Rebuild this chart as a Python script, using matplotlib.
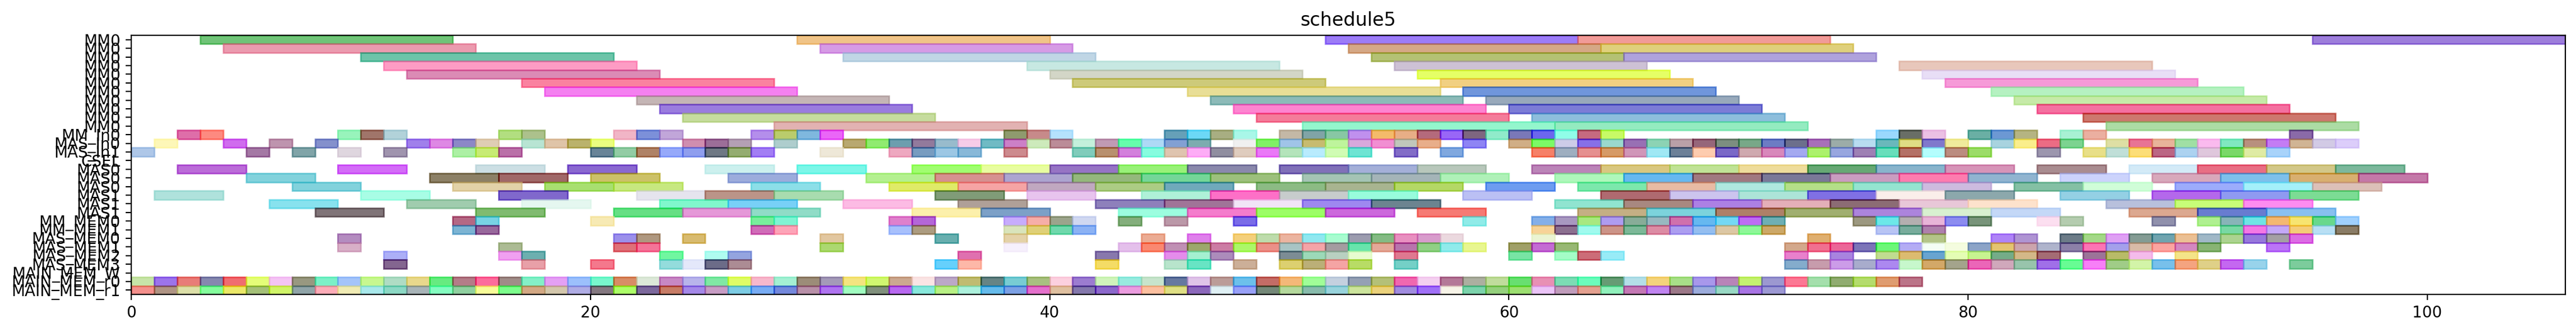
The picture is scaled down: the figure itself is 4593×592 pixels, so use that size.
import matplotlib
matplotlib.use("Agg")
import matplotlib.pyplot as plt
from matplotlib.colors import to_rgb
import numpy as np

title = "schedule5"
row_labels = ["MM0"] * 11 + ["MM_In0", "MAS_In0", "MAS_In1", "CSEL",
              "MAS0", "MAS0", "MAS0", "MAS1", "MAS1", "MAS1",
              "MM_MEM0", "MM_MEM1", "MAS_MEM0", "MAS_MEM1", "MAS_MEM2", "MAS_MEM3",
              "MAIN_MEM_W", "MAIN_MEM_r0", "MAIN_MEM_r1"]
x_ticks = [0, 20, 40, 60, 80, 100]
x_max = 106
durations = [11] * 11 + [1, 1, 1, 1] + [3] * 6 + [1] * 9

s0 = [3, 29, 52, 63, 95]
c0 = ["#70C478", "#F0C488", "#9C7CF8", "#F19B98", "#9D7EDB"]
s1 = [4, 30, 53, 64]
c1 = ["#EC9BB0", "#D69BE6", "#D5A886", "#E0D07C"]
s2 = [10, 31, 54, 65]
c2 = ["#6DC5AA", "#C0D6E6", "#B4C274", "#AFA2DC"]
s3 = [11, 39, 55, 77]
c3 = ["#FE9CC5", "#C8E8E2", "#CDC2D5", "#E8C8BC"]
s4 = [12, 40, 56, 78]
c4 = ["#DB8BB6", "#D4D6C8", "#E6FF66", "#E8DEF6"]
s5 = [17, 41, 57, 79]
c5 = ["#FA82A0", "#CECB7A", "#F2D182", "#F69AD8"]
s6 = [18, 46, 58, 81]
c6 = ["#F580F0", "#E9DE96", "#7096DC", "#B6F2C2"]
s7 = [22, 47, 59, 82]
c7 = ["#C4B6B6", "#8CBAB8", "#98AABC", "#C6EAA8"]
s8 = [23, 48, 60, 83]
c8 = ["#9A7CDE", "#FE84D0", "#7C7CD6", "#F470A0"]
s9 = [24, 49, 61, 85]
c9 = ["#C6DC9E", "#F47C9A", "#8DBEDC", "#CD786E"]
s10 = [28, 51, 62, 86]
c10 = ["#E2B2B2", "#94F6CE", "#94ECC0", "#ADDDA4"]

s11 = [2, 3, 9, 10, 11, 16, 17, 21, 22, 23, 27, 28, 29, 30,
       38, 39, 40, 45, 46, 47, 48, 50, 51, 52, 53, 54, 55, 56, 57, 58, 59, 60, 61, 62, 63, 64,
       76, 77, 78, 80, 81, 82, 84, 85, 94]
c11 = ["#DE6EAA", "#FE8A80", "#98F4BC", "#A0756A", "#B2D2DA", "#B2DE80", "#ACC28C", "#F2B6C6", "#7C90DA", "#C2A6DA", "#B48EEC", "#BACC6C", "#7FB8DE", "#EA66F8",
       "#8F9A6E", "#C78A8A", "#B6E2FE", "#66A0B8", "#6CD8F6", "#A8AE82", "#AAF8E8", "#C4B8A6", "#80A4A6", "#88C8A4", "#C090EE", "#F4BA6A", "#E9AE86", "#B46A7C", "#9966F8", "#7E6580", "#90ECCA", "#7A78B8", "#6C66EE", "#90FEE8", "#C66A80", "#C8FA66",
       "#9AD8FE", "#696E62", "#ECC0E4", "#6AB0A4", "#6C98D4", "#B6B482", "#A8F2D4", "#ECB0A0", "#8A6AA8"]

s12 = [1, 4, 6, 8, 12, 13, 14, 15, 17, 18, 19, 20, 24, 25, 26, 28, 31, 32, 33,
       34, 35, 36, 37, 38, 39, 40, 41, 42, 43, 44, 45, 46, 48, 49, 50, 51, 52,
       53, 54, 55, 56, 58, 60, 61, 62, 63, 64, 65, 66, 67, 68, 69, 70, 71, 72,
       73, 74, 75, 76, 77, 78, 79, 81, 82, 83, 84, 86, 87, 88, 89, 90, 91, 92, 93, 94, 95, 96]
c12 = ["#FEF8B8", "#D06CEE", "#BE94AE", "#8490CC", "#A080EC", "#DE88E4", "#8C88C8", "#E0CDB4", "#B8E4D4", "#DFC4A8", "#BAB26C", "#EAFE80", "#D08EB0", "#9C6E98", "#B4A0B4", "#AECECE", "#B8A870", "#90EC70", "#6C9EAE",
       "#927A9C", "#98BCCC", "#F8CCE8", "#70BAC4", "#CC80C8", "#CDEABC", "#BC8C98", "#C4F0DC", "#C09AB4", "#66FEAC", "#AEDAF6", "#82A0D4", "#7CACB0", "#F0F0F0", "#80F060", "#A0C4E8", "#C8BC70", "#BEF49C",
       "#D8A8DC", "#F28ED2", "#C0C8BC", "#E8AE8A", "#8E84F4", "#D0AE86", "#7CFA66", "#CECCE8", "#8670E8", "#9AD8CE", "#9870B4", "#8CD4B4", "#BAA0A8", "#96667A", "#7C8E80", "#78A888", "#6C7CC4", "#6C6F8C",
       "#A870B8", "#9CADA8", "#B8DCF0", "#6AB8BC", "#E0DC84", "#8078CC", "#F0EC9C", "#A8D4E0", "#FBEE8C", "#EC6C84", "#7CD490", "#DEE0A4", "#E87494", "#E8B49A", "#A0E0A4", "#FABAEE", "#80E8C0", "#B8907E", "#C47CF4", "#D0B494", "#D2CAE6", "#DCCEFA"]

s13 = [0, 5, 7, 9, 11, 14, 15, 16, 20, 21, 22, 23, 24, 25, 26, 27, 30, 33,
       34, 35, 36, 38, 41, 42, 43, 44, 45, 46, 47, 48, 49, 50, 51, 52,
       53, 55, 57, 61, 62, 63, 64, 65, 66, 67, 68, 69, 70, 71, 72,
       73, 74, 75, 76, 77, 78, 79, 80, 83, 85, 86, 87, 88, 89, 90, 91, 92, 93]
c13 = ["#AEC8E8", "#A478A4", "#80A4A8", "#E0D6E0", "#A094AE", "#ACF0A4", "#C8EC74", "#BA70A8", "#688498", "#92CCA4", "#B08264", "#96AAFA", "#8F9EEE", "#6E7884", "#94AC70", "#A27EF4", "#EEE8D8", "#EEA8C0",
       "#789CC0", "#9CC8E4", "#88B8D8", "#CE8A8E", "#80CCBC", "#B8906E", "#D480DC", "#86FCE0", "#E0C4B0", "#FEACF6", "#908EA0", "#E0CCBE", "#EA78F8", "#B4E4BC", "#B8ECFE", "#D0FCB4",
       "#6EE4D4", "#826CC8", "#80A8E0", "#F68068", "#9EAEC0", "#E69090", "#D69A66", "#D096B8", "#A0E8F4", "#6C8098", "#FECCB0", "#7A68C8", "#CFAAB0", "#D888BC", "#A4AAF0",
       "#ACF26C", "#98A6E0", "#9E80B4", "#68DEBC", "#B47060", "#B4FEFE", "#BC8C80", "#9CDC68", "#9C96AE", "#E8E088", "#C0E0D8", "#FCDE78", "#BC6684", "#ACD2F0", "#E0C8DC", "#7AD868", "#E0ECA4", "#A8D4FA"]

s14 = []
c14 = []

s15 = [2, 9, 15, 19, 25, 29, 34, 37, 40, 43, 46, 50, 53, 56, 61, 64, 67, 70, 73, 76, 79, 83, 87, 90, 93, 96]
c15 = ["#BC6CD8", "#D46CF8", "#CCE0E4", "#8A68D0", "#CCF0EE", "#7CF6E8", "#A0FE70", "#E8FEA0", "#9674C4", "#98F278", "#8A88AC", "#8070B8", "#A4B0D8", "#B8C8BC", "#BC84B8", "#DAC880", "#C0E296", "#EEDC9C", "#66A874", "#88B4CC", "#D694B8", "#AA8C90", "#D4EAF8", "#E86E84", "#D2C888", "#7CB89C"]
s16 = [5, 13, 16, 20, 26, 32, 35, 38, 41, 44, 47, 51, 54, 57, 62, 65, 68, 71, 74, 77, 80, 84, 88, 91, 94, 97]
c16 = ["#82D2DC", "#8C8064", "#A06868", "#CCC268", "#9CACDC", "#B4F090", "#D69090", "#ACA4D0", "#94B87C", "#74D698", "#9CC07C", "#A4C4B4", "#A4B4B8", "#B0F2B8", "#AEF8BC", "#64B8F0", "#A07880", "#7A7898", "#CB9CC0", "#FE7CB0", "#90B4D0", "#CCD4FC", "#D8A8BC", "#7EC0EC", "#D8B070", "#C478A8"]
s17 = [7, 14, 18, 21, 27, 33, 36, 39, 42, 45, 49, 52, 55, 59, 63, 66, 69, 72, 75, 78, 82, 85, 89, 92, 95]
c17 = ["#82D2DC", "#E2D2A8", "#A8E070", "#C8E880", "#8CE0E8", "#E0EC68", "#F6A4A4", "#C0A8C0", "#ACCC84", "#70AABC", "#8CBC84", "#A8B490", "#B4D864", "#6E9CF0", "#7CE8AC", "#E8BCA4", "#B0E8E0", "#B4E088", "#94E4D0", "#CEBCE0", "#84C0A4", "#D0FED8", "#9CACFC", "#A4F0FA", "#DCC0B8"]
s18 = [1, 10, 16, 22, 25, 28, 35, 39, 44, 47, 50, 53, 58, 64, 67, 70, 73, 76, 79, 84, 88, 91, 94]
c18 = ["#B0E2DC", "#A8FEE6", "#8068CC", "#E6E4EE", "#BC9488", "#A8DCB0", "#809C78", "#E8C4EE", "#B0F2D8", "#FE70C8", "#C8CCCC", "#98FCDC", "#BCC0F4", "#B06A70", "#CCC4EE", "#ACE4D8", "#8070E4", "#FAEEEA", "#8CA8AC", "#94D0E4", "#B468EC", "#8F9AF2", "#7CDC94"]
s19 = [6, 12, 17, 23, 26, 31, 36, 42, 45, 48, 51, 54, 62, 65, 68, 71, 74, 77, 80, 86, 89, 92]
c19 = ["#88E2EE", "#A0CCAE", "#E6F8F0", "#80F8CC", "#78D0F8", "#FCBCE4", "#B0A098", "#8E80BC", "#A07498", "#F2E4F6", "#9E88F0", "#6C8490", "#90E4D0", "#A88880", "#AC80E4", "#E4B0B8", "#8C6C74", "#E8C8D8", "#FEE2CC", "#B8C0DC", "#C8FE78", "#FE8CF0"]
s20 = [8, 15, 21, 24, 27, 34, 37, 43, 46, 49, 52, 56, 63, 66, 69, 72, 75, 78, 81, 87, 90, 93]
c20 = ["#807478", "#80BC70", "#66E084", "#E698D8", "#90DCC8", "#FCF0AC", "#7CA0C8", "#9CFEE0", "#F47CCC", "#9CFE5C", "#CC68DC", "#F67A74", "#C4B084", "#7CD4DC", "#AE8068", "#A0B070", "#AC84DC", "#D8F0D0", "#C4D8F8", "#DCA890", "#687CD0", "#88C0F0"]

s21 = [14, 15, 20, 27, 28, 33, 34, 38, 39, 40, 41, 43, 45, 48, 58, 61, 62, 63, 64, 65, 66, 67, 68, 69, 70, 71,
       75, 76, 77, 78, 79, 80, 83, 84, 88, 90, 91, 92, 93, 94, 95, 96]
c21 = ["#B46884", "#78D4E4", "#F8EAB4", "#78EE9C", "#80F4D4", "#E080CC", "#B466D8", "#C8ACFC", "#F6AEA8", "#9CA48C", "#D0D8F2", "#84AE7C", "#BC98A8", "#7A6CE8", "#90ECE8", "#84B0E8", "#A898C0", "#A8E880", "#AE9CF0", "#88AC98", "#98B8C0", "#D070AC", "#60B8F0", "#74D8F4", "#BE6CF4", "#6EB0B4",
       "#9C9880", "#6CE8E8", "#B4B0B0", "#E8B4D8", "#8C8CF0", "#78947A", "#FCE0F0", "#B4CCB0", "#9090AC", "#B0F090", "#88B4B8", "#70E4E4", "#F4B870", "#F8E470", "#68D88C", "#A0D0FE"]
s22 = [14, 15, 27, 28, 33, 34, 38, 39, 40, 41, 61, 62, 63, 64, 65, 66, 67, 68, 69, 70, 71, 76, 77, 78, 91, 92, 93, 94, 95, 96]
c22 = ["#7CB4D4", "#98689C", "#D06CB8", "#FEA4B8", "#A8C0FC", "#AC9C80", "#DAE4BC", "#E0D078", "#70D8AC", "#8CB2F4", "#F8D498", "#8C7090", "#A0FAEE", "#CC9488", "#7CB898", "#DC8CA4", "#AC9EF0", "#94BEF0", "#DCC8A4", "#8EF898", "#CCA868", "#B8C4F4", "#78AC9C", "#AE80AC", "#78D8A4", "#F478E4", "#C4A8F8", "#F4CC78", "#B8E0F4", "#8A7C64"]
s23 = [9, 21, 22, 24, 30, 35, 38, 44, 46, 48, 49, 50, 51, 52, 53, 54, 55, 56, 57, 61, 73, 78, 81, 82, 84, 85, 86, 87, 88, 89, 90, 91, 92, 93, 94]
c23 = ["#B48CC0", "#9C90EC", "#B09880", "#D8BC70", "#E2C8A0", "#68B0B0", "#E4D2A8", "#ECAC94", "#E080EC", "#F4D07C", "#BEDCAC", "#ECB4A0", "#90E8F0", "#A8FCD0", "#9C9CB0", "#84BC84", "#E890C0", "#D89CCC", "#ECDAE0", "#ECF4D4", "#E0B070", "#B4C488", "#B084F8", "#B094D4", "#6C7C88", "#A4D888", "#E0A0F4", "#849C94", "#70A4B0", "#ECC094", "#A0B8C8", "#ACD490", "#9878DC", "#A4A0A4", "#DC6CE4"]
s24 = [9, 16, 21, 22, 30, 38, 43, 44, 45, 46, 47, 48, 49, 50, 51, 52, 53, 54, 55, 56, 57, 58, 60, 61, 62, 72,
       73, 74, 75, 76, 77, 78, 79, 80, 81, 82, 83, 84, 85, 86, 87, 88, 89, 90, 93]
c24 = ["#D8B0C8", "#ACBC94", "#E07078", "#F47498", "#ACD870", "#F6F0FC", "#E4C0EC", "#FA8870", "#C090B4", "#9CA86C", "#CC7CA4", "#ACF868", "#EC9088", "#A8C4C4", "#F4A4A8", "#A49CA0", "#68E4AC", "#E4A898", "#B874AC", "#90D084", "#90ECEC", "#E8F690", "#A0A068", "#C46CD4", "#98B874", "#D4A88C",
       "#F07090", "#EC6498", "#7C74B8", "#6CF878", "#B4ACF4", "#F4FEF4", "#F4FCE0", "#8CA4C8", "#E4C470", "#CCA4AC", "#B0B4CC", "#8C80A8", "#FC74B4", "#A4A0EC", "#D8BCA8", "#FCA4A0", "#D488C0", "#88B474", "#BC74F8"]
s25 = [11, 16, 17, 23, 25, 26, 36, 42, 45, 46, 47, 50, 51, 52, 53, 55, 60, 62, 63, 64, 72,
       74, 76, 77, 78, 79, 80, 81, 82, 83, 85, 86, 87, 89]
c25 = ["#ACB0F8", "#F0A0F0", "#6CB0B0", "#70F8A0", "#B0FCF0", "#94A4E0", "#E070B0", "#8878AC", "#E48CEC", "#A4F0D0", "#AC8CBC", "#7C8C94", "#9CDAB8", "#B8D0C0", "#E8FCD0", "#E07890", "#78E4A4", "#A4FCC8", "#CC6C78", "#98ECF8", "#E880CC",
       "#A884E0", "#C0DC90", "#DCBC70", "#68A4D0", "#E4FEB4", "#C8F490", "#74AC88", "#D4B888", "#A46C74", "#9C7498", "#B8BC68", "#F4BCEC", "#F4E488"]
s26 = [11, 17, 20, 23, 24, 25, 26, 35, 36, 42, 45, 46, 48, 50, 51, 52, 53, 55, 72,
       73, 74, 75, 76, 77, 78, 79, 80, 81, 82, 83, 84, 85, 86, 87, 88, 89, 90, 91, 92, 94]
c26 = ["#846090", "#E8A0A8", "#F4788C", "#94DCDC", "#E4E8FA", "#6C6C88", "#AC8C94", "#64D0FC", "#FEB8A8", "#F4DC64", "#B8E4CC", "#68E4C4", "#CCB098", "#DCD070", "#BCB078", "#F4A4A4", "#B8DC60", "#74D0C8", "#84ACCC",
       "#C89CAC", "#CC9CE8", "#A8ACCC", "#AC88F0", "#C8F8CC", "#D4A868", "#A4A48C", "#EC64B8", "#D0A8BC", "#98C4AC", "#A070E8", "#68FC94", "#F880F8", "#A0CC88", "#D4F4A8", "#78C0EC", "#F4A480", "#E0D088", "#C468F0", "#98D4EC", "#7CCC9C"]
s27 = []
c27 = []
s28 = list(range(78))
c28 = ["#C8E4A8", "#9C74EC", "#E87C78", "#8688B0", "#F06C70", "#E4FE78", "#F4C4F4", "#989880", "#7CF0C8", "#A4C4FA", "#C8F890", "#B0DCC4", "#E8D88C", "#66EC80",
       "#B47C88", "#FC6C9C", "#A08C88", "#84F0C8", "#E4A0F4", "#9CC0FC", "#78F8CC", "#D88C64", "#DCE8D8", "#C888C4", "#B8B4EC", "#80E8A4", "#E0FC64", "#F8B8CC", "#A4F0D4", "#9C8C78", "#A49AB8", "#F4E480", "#D0F870", "#CCA890",
       "#FAE4E4", "#BCA8C8", "#C0BC70", "#648484", "#78CCD4", "#A8C080", "#FCD0E0", "#9C7CD0", "#D0F4BC", "#98ECE0", "#C8E4CC", "#6478A0", "#E0C4E8", "#BC9C98", "#6CC0EC", "#C46C60", "#F4B878", "#A0FE98", "#C4D0E0",
       "#94A0B4", "#B4C078", "#F068B0", "#F4D0F0", "#B47898", "#ACB0A0", "#C0DC9C", "#68E070", "#E890B4", "#7CDCB4", "#6CFCBC", "#649C74", "#B4E0E8", "#F4D47C", "#A8E088", "#A898EC", "#B884B8", "#C4F070", "#9C98D0", "#FC7894",
       "#A4E0AC", "#90AC70", "#B4DC6C", "#E09C70", "#BC7488"]
s29 = list(range(72))
c29 = ["#F4908C", "#B09484", "#DCE0A8", "#84FE9C", "#ECE868", "#A4C078", "#D0F468", "#90A4A8", "#FCACB8", "#F0ECB4", "#A8E8EC", "#8CD8C4", "#A8B4B8", "#84FCC0",
       "#90D0A0", "#F8FC98", "#7CFE8C", "#D4A884", "#D4C8AC", "#B0ACE4", "#847880", "#ACFE68", "#7C689C", "#C87C64", "#A488E8", "#C89CC4", "#7CCCE4", "#78ACF4", "#7488DC", "#B890A8", "#B074F0", "#A0FCC0", "#80907C", "#B868F0",
       "#88E8DC", "#B8F084", "#ACF0DC", "#64BCEC", "#7CA0E4", "#E470CC", "#E0C0A0", "#8478AC", "#8C68CC", "#EC9CE0", "#FCC0A0", "#E0E084", "#8C68BC", "#E0F0F4", "#98A0F8", "#748878", "#B4D89C", "#88BCAC", "#98D4DC",
       "#CCE49C", "#ECD27C", "#A08CE0", "#A070F8", "#F8F4E8", "#7CD4AC", "#94D07C", "#9CE070", "#ECC4F8", "#C09CBC", "#E4A090", "#90F0BC", "#C478B4", "#C084F0", "#9C7888", "#9CACDC", "#98D8C4", "#A874E4", "#9C98D4"]

row_starts = [s0, s1, s2, s3, s4, s5, s6, s7, s8, s9, s10, s11, s12, s13, s14, s15, s16, s17, s18, s19,
              s20, s21, s22, s23, s24, s25, s26, s27, s28, s29]
row_colors = [c0, c1, c2, c3, c4, c5, c6, c7, c8, c9, c10, c11, c12, c13, c14, c15, c16, c17, c18, c19,
              c20, c21, c22, c23, c24, c25, c26, c27, c28, c29]

ALPHA = 0.6


def source_colour(visible):
    """Colour that gives the visible fill once blended at ALPHA over white."""
    rgb = np.array(to_rgb(visible))
    return tuple(np.clip((rgb - (1 - ALPHA)) / ALPHA, 0, 1))


W, H, DPI = 4593, 592, 200
fig = plt.figure(figsize=(W / DPI, H / DPI), dpi=DPI)
left, right, top, bottom = 234, 4573.5, 63, 525
ax = fig.add_axes([left / W, 1 - bottom / H, (right - left) / W, (bottom - top) / H])

for row, (starts, colours, dur) in enumerate(zip(row_starts, row_colors, durations)):
    for st, col in zip(starts, colours, strict=True):
        c = source_colour(col)
        ax.barh(row, dur, left=st, height=1, color=c, edgecolor=c, alpha=ALPHA, linewidth=1)

ax.set_xlim(0, x_max)
ax.set_ylim(len(row_labels) - 0.5, -0.5)
ax.set_xticks(x_ticks)
ax.set_yticks(range(len(row_labels)))
ax.set_yticklabels(row_labels)
ax.set_title(title)
fig.savefig("out.png", dpi=DPI)
